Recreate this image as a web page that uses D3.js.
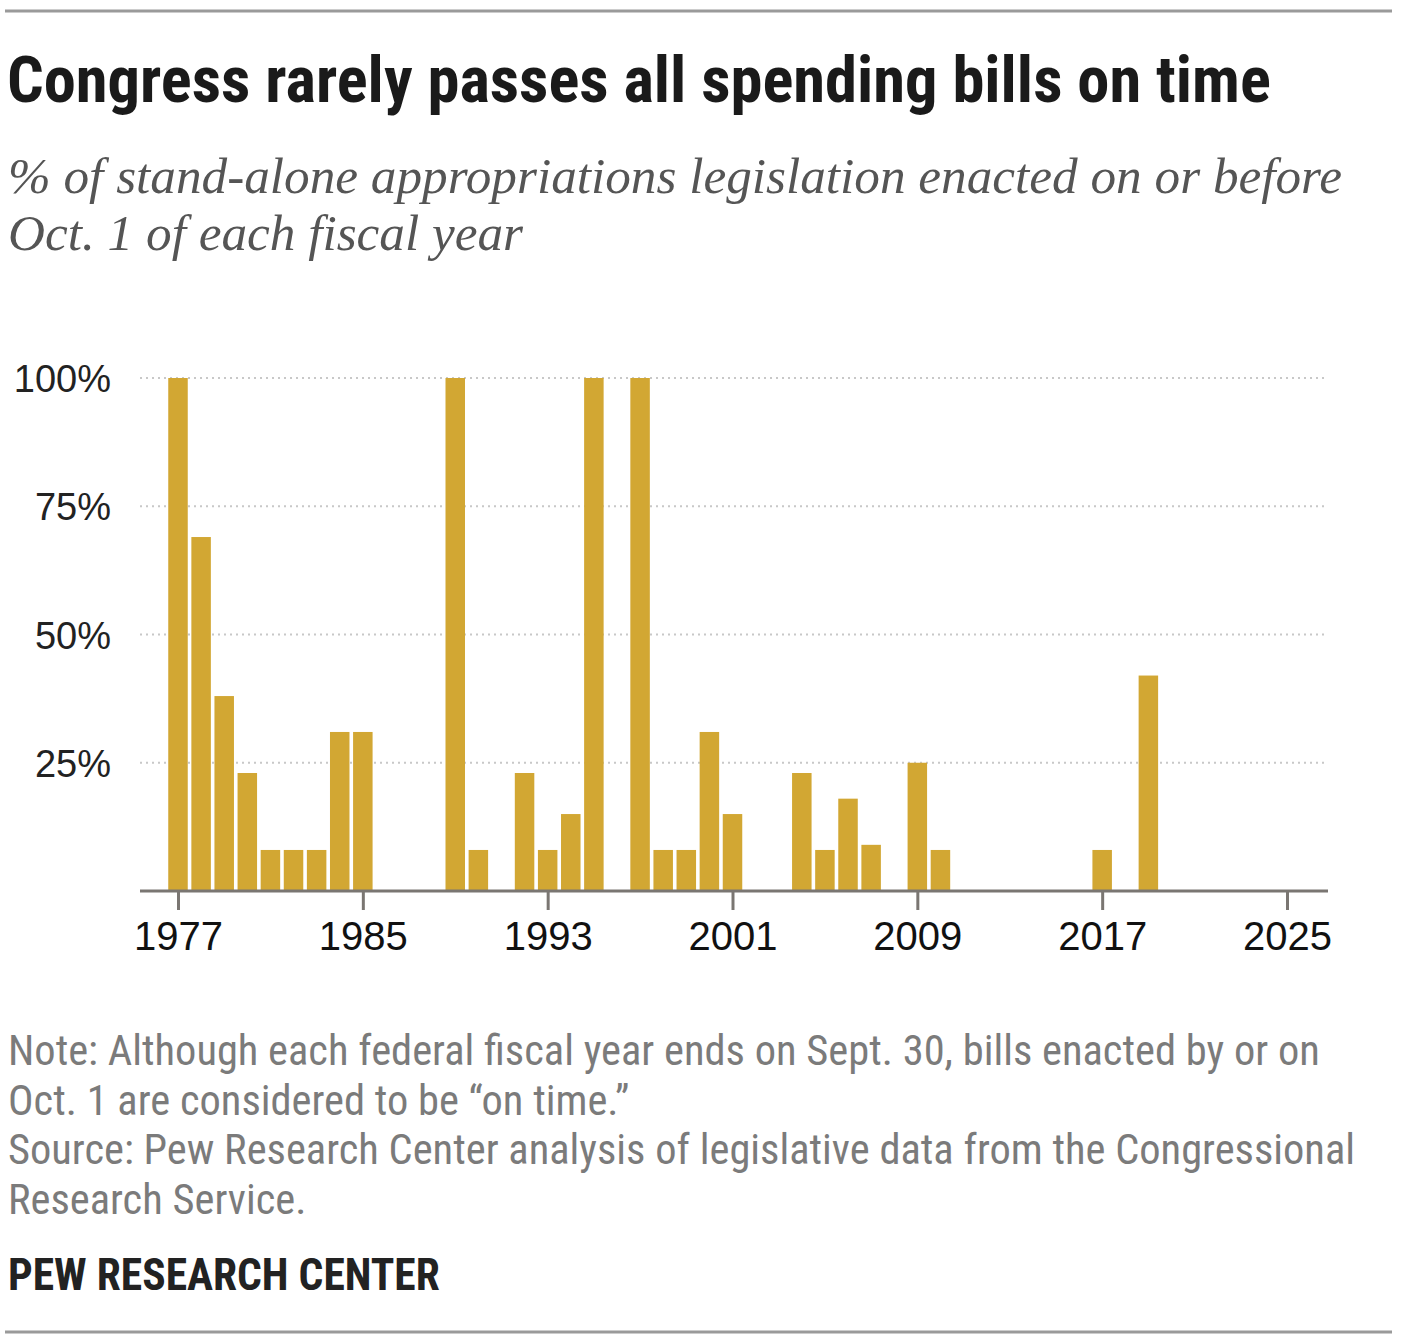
<!DOCTYPE html>
<html lang="en">
	<head>
		<meta charset="utf-8">
		<title>Congress rarely passes all spending bills on time</title>
		<style type="text/css">
			body { margin: 0; background: #fff; }
			svg { display: block; }
		</style>
	</head>
	<body>
		<script src="https://d3js.org/d3.v7.min.js"></script>
		<script>
			// Data: fiscal years and % of appropriations enacted on time
			var years = d3.range(1977, 2026);
			var values = [100, 69, 38, 23, 8, 8, 8, 31, 31, 0, 0, 0,
						  100, 8, 0, 23, 8, 15, 100, 0, 100, 8, 8, 31,
						  15, 0, 0, 23, 8, 18, 9, 0, 25, 8, 0, 0,
						  0, 0, 0, 0, 8, 0, 42, 0, 0, 0, 0, 0, 0];
			var xTicks = [1977, 1985, 1993, 2001, 2009, 2017, 2025];
			var yTicks = [25, 50, 75, 100];

			var title = "Congress rarely passes all spending bills on time";
			var subtitle = ["% of stand-alone appropriations legislation enacted on or before",
							"Oct. 1 of each fiscal year"];
			var notes = ["Note: Although each federal fiscal year ends on Sept. 30, bills enacted by or on",
						 "Oct. 1 are considered to be \u201Con time.\u201D",
						 "Source: Pew Research Center analysis of legislative data from the Congressional",
						 "Research Service."];

			var w = 1402;
			var h = 1344;
			var barColor = "#d2a733";
			var narrow = "'Liberation Sans Narrow', 'Roboto Condensed', 'Liberation Sans', sans-serif";

			var svg = d3.select("body")
						.append("svg")
						.attr("width", w)
						.attr("height", h);

			//Top and bottom rules
			[11, 1332].forEach(function(y) {
				svg.append("line")
				   .attr("x1", 5).attr("x2", 1392)
				   .attr("y1", y).attr("y2", y)
				   .attr("stroke", "#9a9a9a")
				   .attr("stroke-width", 3);
			});

			//Fit a text to a target width by adjusting font size
			function fit(sel, width) {
				var len = sel.node().getComputedTextLength();
				var fs = parseFloat(sel.attr("font-size"));
				sel.attr("font-size", (fs * width / len).toFixed(2) + "px");
			}

			//Title
			var t = svg.append("text")
			   .text(title)
			   .attr("x", 7)
			   .attr("y", 102)
			   .attr("font-family", narrow)
			   .attr("font-weight", "bold")
			   .attr("font-size", "54px")
			   .attr("fill", "#1a1a1a");
			fit(t, 1264);

			//Subtitle
			var subFs = null;
			subtitle.forEach(function(s, i) {
				var st = svg.append("text")
				   .text(s)
				   .attr("x", 8)
				   .attr("y", 193 + i * 57)
				   .attr("font-family", "'Liberation Serif', 'DejaVu Serif', serif")
				   .attr("font-style", "italic")
				   .attr("font-size", "42px")
				   .attr("fill", "#555");
				if (i === 0) {
					fit(st, 1334);
					subFs = st.attr("font-size");
				} else {
					st.attr("font-size", subFs);
				}
			});

			//Scales
			var xScale = d3.scaleLinear()
							.domain([1977, 2025])
							.range([178, 1287]);
			var yScale = d3.scaleLinear()
							.domain([0, 100])
							.range([891, 378]);
			var barW = 19.5;

			//Gridlines
			svg.selectAll("line.grid")
			   .data(yTicks)
			   .enter()
			   .append("line")
			   .attr("class", "grid")
			   .attr("x1", 140)
			   .attr("x2", 1325)
			   .attr("y1", function(d) { return yScale(d); })
			   .attr("y2", function(d) { return yScale(d); })
			   .attr("stroke", "#c8c8c8")
			   .attr("stroke-width", 2)
			   .attr("stroke-dasharray", "2,4");

			//Y labels
			svg.selectAll("text.ylab")
			   .data(yTicks)
			   .enter()
			   .append("text")
			   .attr("class", "ylab")
			   .text(function(d) { return d + "%"; })
			   .attr("x", 111)
			   .attr("y", function(d) { return yScale(d) + 14; })
			   .attr("text-anchor", "end")
			   .attr("font-family", "'Liberation Sans', Arial, sans-serif")
			   .attr("font-size", "38px")
			   .attr("fill", "#222");

			//Bars
			svg.selectAll("rect")
			   .data(values)
			   .enter()
			   .append("rect")
			   .attr("x", function(d, i) { return xScale(years[i]) - barW / 2; })
			   .attr("y", function(d) { return yScale(d); })
			   .attr("width", barW)
			   .attr("height", function(d) { return yScale(0) - yScale(d); })
			   .attr("fill", barColor);

			//X axis
			var xAxis = d3.axisBottom(xScale)
						  .tickValues(xTicks)
						  .tickFormat(d3.format("d"))
						  .tickSize(19)
						  .tickSizeOuter(0)
						  .tickPadding(12);
			var gx = svg.append("g")
			   .attr("transform", "translate(0," + yScale(0) + ")")
			   .call(xAxis);
			gx.select(".domain").remove();
			gx.append("line")
			  .attr("x1", 140).attr("x2", 1328)
			  .attr("stroke", "#7a7672")
			  .attr("stroke-width", 3);
			gx.selectAll(".tick line")
			  .attr("stroke", "#7a7672")
			  .attr("stroke-width", 3);
			gx.selectAll(".tick text")
			  .attr("font-family", "'Liberation Sans', Arial, sans-serif")
			  .attr("font-size", "40px")
			  .attr("fill", "#111");

			//Notes
			var noteFs = null;
			notes.forEach(function(n, i) {
				var nt = svg.append("text")
				   .text(n)
				   .attr("x", 8)
				   .attr("y", 1065 + i * 49.5)
				   .attr("font-family", narrow)
				   .attr("font-size", "34px")
				   .attr("fill", "#7b7b7b");
				if (i === 0) {
					fit(nt, 1312);
					noteFs = nt.attr("font-size");
				} else {
					nt.attr("font-size", noteFs);
				}
			});

			//Brand
			var b = svg.append("text")
			   .text("PEW RESEARCH CENTER")
			   .attr("x", 8)
			   .attr("y", 1290)
			   .attr("font-family", narrow)
			   .attr("font-weight", "bold")
			   .attr("font-size", "34px")
			   .attr("fill", "#222");
			fit(b, 432);
		</script>
	</body>
</html>
